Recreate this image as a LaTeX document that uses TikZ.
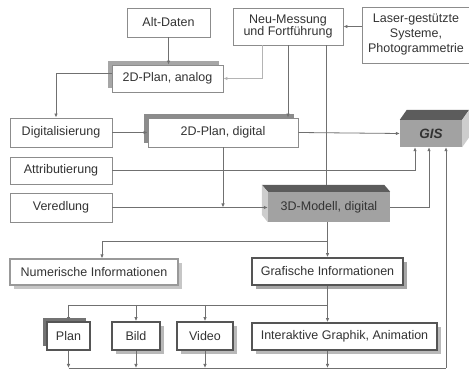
\documentclass[tikz,border=0pt]{standalone}
\usepackage{fontspec}
\setmainfont{Liberation Sans}
\usepackage{xcolor}
\usetikzlibrary{calc}
\usetikzlibrary{arrows.meta,shadows}

\definecolor{txtgray}{HTML}{333333}
\definecolor{boxgray}{HTML}{8C8C8C}
\definecolor{darkbox}{HTML}{555555}
\definecolor{linegray}{HTML}{707070}
\definecolor{palegray}{HTML}{B4B4B4}
\definecolor{frontgray}{HTML}{A2A2A2}
\definecolor{topgray}{HTML}{5C5C5C}
\definecolor{sidegray}{HTML}{CDCDCD}

\begin{document}
\begin{tikzpicture}[x=1pt,y=-1pt,
  every node/.style={font=\fontsize{12.5}{13}\selectfont,text=txtgray},
  box/.style={draw=boxgray,line width=0.9pt,fill=white,inner sep=0pt,align=center},
  dbox/.style={box,draw=darkbox,line width=1.7pt},
  shadowtl/.style={general shadow={fill=#1,shadow xshift=-4pt,shadow yshift=4pt}},
  shadowbr/.style={general shadow={fill=#1,shadow xshift=4pt,shadow yshift=-4pt}},
  con/.style={draw=linegray,line width=0.8pt},
  arr/.style={con,-{Latex[length=4pt,width=3.5pt]}}]
\useasboundingbox (0,0) rectangle (469,371);

% sources
\node[box,minimum width=83pt,minimum height=29pt] (alt) at (168.5,22.5) {Alt-Daten};
\node[box,minimum width=110pt,minimum height=37pt,font=\fontsize{12.5}{12}\selectfont] (neu) at (288,26.5) {Neu-Messung\\und Fortführung};
\node[box,minimum width=107pt,minimum height=56pt,font=\fontsize{12.5}{15}\selectfont] (laser) at (416,35) {Laser-gestützte\\Systeme,\\Photogrammetrie};

% plans
\node[box,shadowtl=gray!70,minimum width=111pt,minimum height=27pt] (analog) at (167.5,78.5) {2D-Plan, analog};
\node[box,shadowtl=gray!90,minimum width=150pt,minimum height=29pt] (plan2d) at (223,132.5) {2D-Plan, digital};

% steps on the left
\node[box,minimum width=102pt,minimum height=29pt] (digi) at (61,132.5) {Digitalisierung};
\node[box,minimum width=102pt,minimum height=27pt] (attr) at (61,170.5) {Attributierung};
\node[box,minimum width=102pt,minimum height=29pt] (vered) at (61,207.5) {Veredlung};

% GIS block
\node[fill=frontgray,inner sep=0pt,minimum width=62pt,minimum height=27pt,font=\fontsize{13.5}{14}\bfseries\itshape\selectfont] (gis) at (431,133.5) {GIS};
\fill[topgray] (gis.north west) -- ++(7,-10) -- ($(gis.north east)+(7,-10)$) -- (gis.north east) -- cycle;
\fill[sidegray] (gis.north east) -- ++(7,-10) -- ($(gis.south east)+(7,-10)$) -- (gis.south east) -- cycle;

% 3D model block
\node[fill=frontgray,inner sep=0pt,minimum width=122pt,minimum height=30pt] (model3d) at (329,207) {3D-Modell, digital};
\fill[topgray] (model3d.north west) -- ++(-6,-7) -- ($(model3d.north east)+(-6,-7)$) -- (model3d.north east) -- cycle;
\fill[sidegray] (model3d.north west) -- ++(-6,-7) -- ++(0,30) -- (model3d.south west) -- cycle;
\coordinate (m3top) at ($(model3d.north)+(-3,-7)$);

% results
\node[box,draw=gray!80,line width=1.2pt,shadowbr=gray!45,minimum width=168pt,minimum height=26pt] (numer) at (94,272) {Numerische Informationen};
\node[dbox,shadowbr=gray!70,minimum width=151pt,minimum height=27pt] (graf) at (327.5,271.5) {Grafische Informationen};
\node[dbox,shadowtl=gray!110,minimum width=43pt,minimum height=28pt] (plan) at (68.5,336) {Plan};
\node[dbox,shadowbr=gray!55,minimum width=48pt,minimum height=28pt] (bild) at (136,336) {Bild};
\node[dbox,shadowbr=gray!55,minimum width=56pt,minimum height=28pt] (video) at (205,336) {Video};
\node[dbox,shadowbr=gray!55,minimum width=185pt,minimum height=27pt] (inter) at (344.5,336.5) {Interaktive Graphik, Animation};

% connectors at the top
\draw[arr] (alt.south) -- (alt.south |- analog.north);
\draw[arr] (laser.west |- neu.east) -- (neu.east);
\coordinate (neuL) at ($(neu.south)+(-26,0)$);
\draw[arr,draw=palegray] (neuL) |- (analog.east);
\draw[arr] (neu.south) -- (neu.south |- plan2d.north);
\draw[con] (m3top |- neu.south) -- (m3top);
\draw[arr] ($(analog.west)+(0,-5)$) -| ($(digi.north)+(-5,0)$);

% into 2D plan, 3D model and GIS
\draw[arr] (digi.east) -- (plan2d.west);
\draw[arr] (plan2d.east) -- (gis.west);
\draw[arr] (attr.east) -| ($(gis.south)+(-16,0)$);
\draw[arr] (vered.east) -- (vered.east -| model3d.west);
\draw[arr] (plan2d.south) -- (plan2d.south |- vered.east);
\draw[arr] (model3d.east) -| ($(gis.south)+(-2,0)$);

% below the 3D model
\coordinate (split1) at (graf.north |- 0,241);
\draw[arr] (model3d.south -| graf.north) -- (graf.north);
\draw[arr] (split1) -| ($(numer.north)+(8,0)$);
\draw[arr] (graf.south) -- (graf.south |- inter.north);
\coordinate (split2) at (graf.south |- 0,305);
\draw[con] (split2) -- (split2 -| plan.north);
\foreach \n in {plan,bild,video}
  \draw[arr] (split2 -| \n.north) -- (\n.north);

% back to GIS
\coordinate (gisin) at ($(gis.south)+(15,0)$);
\coordinate (bus) at (gisin |- 0,368);
\draw[con] (plan.south |- bus) -- (bus);
\foreach \n in {plan,bild,video}
  \draw[arr] (\n.south) -- (\n.south |- bus);
\draw[arr] (graf.south |- inter.south) -- (graf.south |- bus);
\draw[arr] (bus) -- (gisin);
\end{tikzpicture}
\end{document}
